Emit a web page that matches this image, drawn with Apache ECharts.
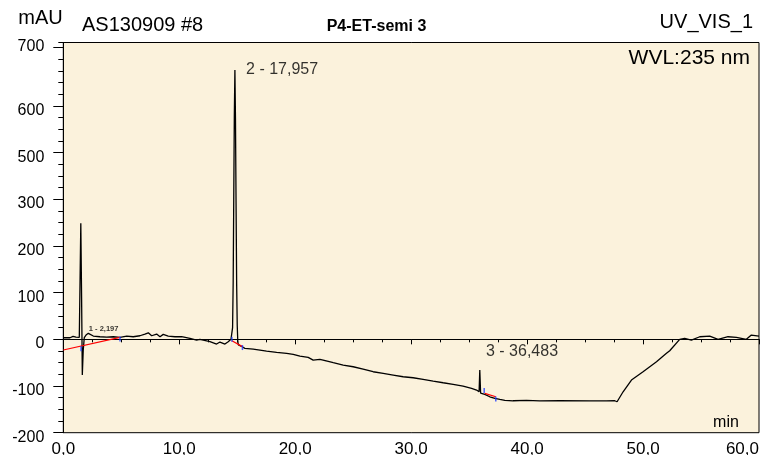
<!DOCTYPE html>
<html>
<head>
<meta charset="utf-8">
<script src="https://cdn.jsdelivr.net/npm/echarts@6/dist/echarts.min.js"></script>
<style>
  html, body { margin: 0; padding: 0; background: #fff; }
  #main { width: 769px; height: 455px; }
</style>
</head>
<body>
<div id="main"></div>
<script>
// chromatogram trace, time in min, signal in mAU
const traceTime = [
  0, 0.32, 0.58, 0.84, 1.09, 1.38, 1.46, 1.51, 1.58, 1.64, 1.72, 1.81, 1.96, 2.16, 2.30, 2.59, 3.16, 3.74, 4.31, 4.89,
  5.47, 6.03, 6.61, 7.04, 7.33, 7.62, 8.05, 8.34, 8.62, 9.05, 9.63, 10.21, 10.92, 11.5, 11.78, 12.65, 13.22, 13.51, 13.94, 14.22, 14.46,
  14.55, 14.6, 14.65, 14.7, 14.75, 14.8, 14.85, 14.9, 14.95, 15.0, 15.05, 15.1,
  15.43, 15.66, 16.38, 16.96, 17.53, 18.4, 19.26, 19.83, 20.41, 21.12, 21.55, 22.13, 22.41, 23.28, 24.14, 25.0, 25.86, 26.72, 27.59, 28.45, 29.31, 30.17, 31.03, 31.9, 32.76, 33.62, 34.48, 35.21, 35.64, 35.86,
  35.92, 35.99, 36.07, 36.35, 36.78, 37.22, 37.65, 38.08, 38.79, 39.95, 41.09, 42.82, 45.41, 46.84, 47.56, 47.76,
  48.28, 49.0, 50.0, 51.16, 52.02, 52.3, 53.16, 53.59, 54.17, 54.89, 55.75, 56.47, 57.33, 58.05, 58.91, 59.34, 60.0
];
const traceSignal = [
  3.4, 3.9, 3.4, 6.4, 4.9, 4.3, 5, 248.6, 84, -76.5, -23, 3.9, 9.2, 12.9, 9.2, 7.1, 5.6, 4.9, 5.6, 4.3,
  7.1, 5.6, 7.7, 11.4, 14.1, 7.7, 11.4, 5.6, 10.7, 7.1, 5.6, 5.6, 2.1, -1.5, 0, -5.1, -10.1, -5.8, -10.1, -5.1, 0,
  3, 25, 120, 300, 480, 577, 470, 290, 120, 30, -5, -12,
  -15.9, -19.3, -20.8, -22.9, -25, -27.9, -30, -32.1, -35.8, -38.6, -44.4, -42.9, -44.4, -50.1, -55.1, -58.7, -63.6, -69.4, -72.9, -76.5, -80.1, -82.3, -85.7, -89.4, -93, -96.4, -100.1, -105, -108.6, -112.3,
  -65.8, -115, -115.7, -117.9, -123, -126.4, -128.6, -130.7, -131.6, -130.7, -131.8, -131.6, -131.8, -131.8, -131.6, -133.7,
  -112.3, -87.2, -69.4, -48, -30, -24.4, 0, 2.1, -1.5, 5.6, 7.1, 0, 5.6, 4.3, 0, 9.2, 7.1
];

// integration baselines (start, end) per peak
const baseline1 = [[0, -22.9], [4.89, 4.3]];
const baseline2 = [[14.54, -3], [15.45, -15.6]];
const baseline3 = [[36.35, -115.7], [37.3, -123]];
// peak start / end marks
const peakMarks = [[1.53, -20], [4.89, 1], [14.54, 0], [15.45, -17.6], [36.3, -109.7], [37.3, -128]];

// peak labels and where they sit
const peakNames = ['1 - 2,197', '2 - 17,957', '3 - 36,483'];
const peakAnchors = [[2.16, 12.9], [14.8, 577], [35.92, -65.8]];

const xTickLabels = ['0,0', '10,0', '20,0', '30,0', '40,0', '50,0', '60,0'];
const yMin = -200, yMax = 636;
const yTickValues = [-200, -100, 0, 100, 200, 300, 400, 500, 625];
const yLabelValues = [-200, -100, 0, 100, 200, 300, 400, 500, 636];
const yTickLabels = ['-200', '-100', '0', '100', '200', '300', '500', '600', '700'];

const FONT = '"Liberation Sans", Arial, sans-serif';

const chart = echarts.init(document.getElementById('main'), null, { renderer: 'canvas' });

const trace = traceTime.map((t, i) => [t, traceSignal[i]]);

const option = {
  backgroundColor: '#ffffff',
  animation: false,
  grid: {
    left: 63.3, right: 10, top: 42.5, bottom: 22.3,
    outerBoundsMode: 'none', containLabel: false,
    show: true, backgroundColor: '#fbf2dc', borderColor: '#000', borderWidth: 1
  },
  xAxis: {
    type: 'value', min: 0, max: 60, interval: 10,
    axisLine: { lineStyle: { color: '#000', width: 1 } },
    axisTick: { length: 5, lineStyle: { color: '#000' } },
    minorTick: { show: true, splitNumber: 4, length: 3, lineStyle: { color: '#000' } },
    splitLine: { show: false },
    axisLabel: {
      color: '#000', fontSize: 17, fontFamily: FONT, margin: 8,
      alignMaxLabel: 'right',
      formatter: (v, i) => xTickLabels[i]
    }
  },
  yAxis: [{
    type: 'value', min: yMin, max: yMax, interval: 25, position: 'left',
    axisLine: { show: true, lineStyle: { color: '#000', width: 1 } },
    axisTick: { length: 5, lineStyle: { color: '#000' } },
    axisLabel: { show: false },
    splitLine: { show: false }
  }, {
    type: 'value', min: yMin, max: yMax, interval: 25, position: 'left',
    axisLine: { show: false },
    axisTick: { show: true, length: 10, customValues: yTickValues, lineStyle: { color: '#000' } },
    axisLabel: {
      color: '#000', fontSize: 16, fontFamily: FONT, margin: 19,
      verticalAlign: 'top', lineHeight: 9,
      customValues: yLabelValues,
      formatter: v => yTickLabels[yLabelValues.indexOf(v)]
    },
    splitLine: { show: false }
  }],
  series: [{
    type: 'line', data: trace, symbol: 'none', yAxisIndex: 0,
    lineStyle: { color: '#000', width: 1.3 }, z: 3
  },
  ...[baseline1, baseline2, baseline3].map(b => ({
    type: 'line', data: b, symbol: 'none', yAxisIndex: 0,
    lineStyle: { color: '#ff0000', width: 1.2 }, z: 4
  })), {
    type: 'scatter', data: peakMarks, yAxisIndex: 0, symbol: 'rect', symbolSize: [1.5, 5],
    itemStyle: { color: '#1f3cff' }, z: 5
  }, {
    type: 'scatter', yAxisIndex: 0, symbolSize: 1, itemStyle: { color: 'rgba(0,0,0,0)' }, z: 6,
    labelLayout: { hideOverlap: false },
    data: peakAnchors.map((p, i) => ({
      value: p,
      label: {
        show: true, formatter: peakNames[i], color: '#000', fontFamily: FONT,
        align: 'left', verticalAlign: 'middle',
        position: [[1, -4], [11.7, 0], [6.7, -18.3]][i],
        fontSize: [7.5, 16, 16][i], fontWeight: ['bold', 'normal', 'normal'][i]
      }
    }))
  }],
  graphic: [
    { type: 'text', x: 40.5, y: 18.5, style: { text: 'mAU', font: '20px ' + FONT, fill: '#000', align: 'center', verticalAlign: 'middle' } },
    { type: 'text', x: 82, y: 25.8, style: { text: 'AS130909 #8', font: '20px ' + FONT, fill: '#000', align: 'left', verticalAlign: 'middle' } },
    { type: 'text', x: 376.5, y: 27, style: { text: 'P4-ET-semi 3', font: 'bold 16px ' + FONT, fill: '#000', align: 'center', verticalAlign: 'middle' } },
    { type: 'text', x: 753, y: 22, style: { text: 'UV_VIS_1', font: '20px ' + FONT, fill: '#000', align: 'right', verticalAlign: 'middle' } },
    { type: 'text', x: 750, y: 58, style: { text: 'WVL:235 nm', font: '21px ' + FONT, fill: '#000', align: 'right', verticalAlign: 'middle' } },
    { type: 'text', x: 726, y: 423, style: { text: 'min', font: '16px ' + FONT, fill: '#000', align: 'center', verticalAlign: 'middle' } }
  ]
};

chart.setOption(option);
</script>
</body>
</html>
